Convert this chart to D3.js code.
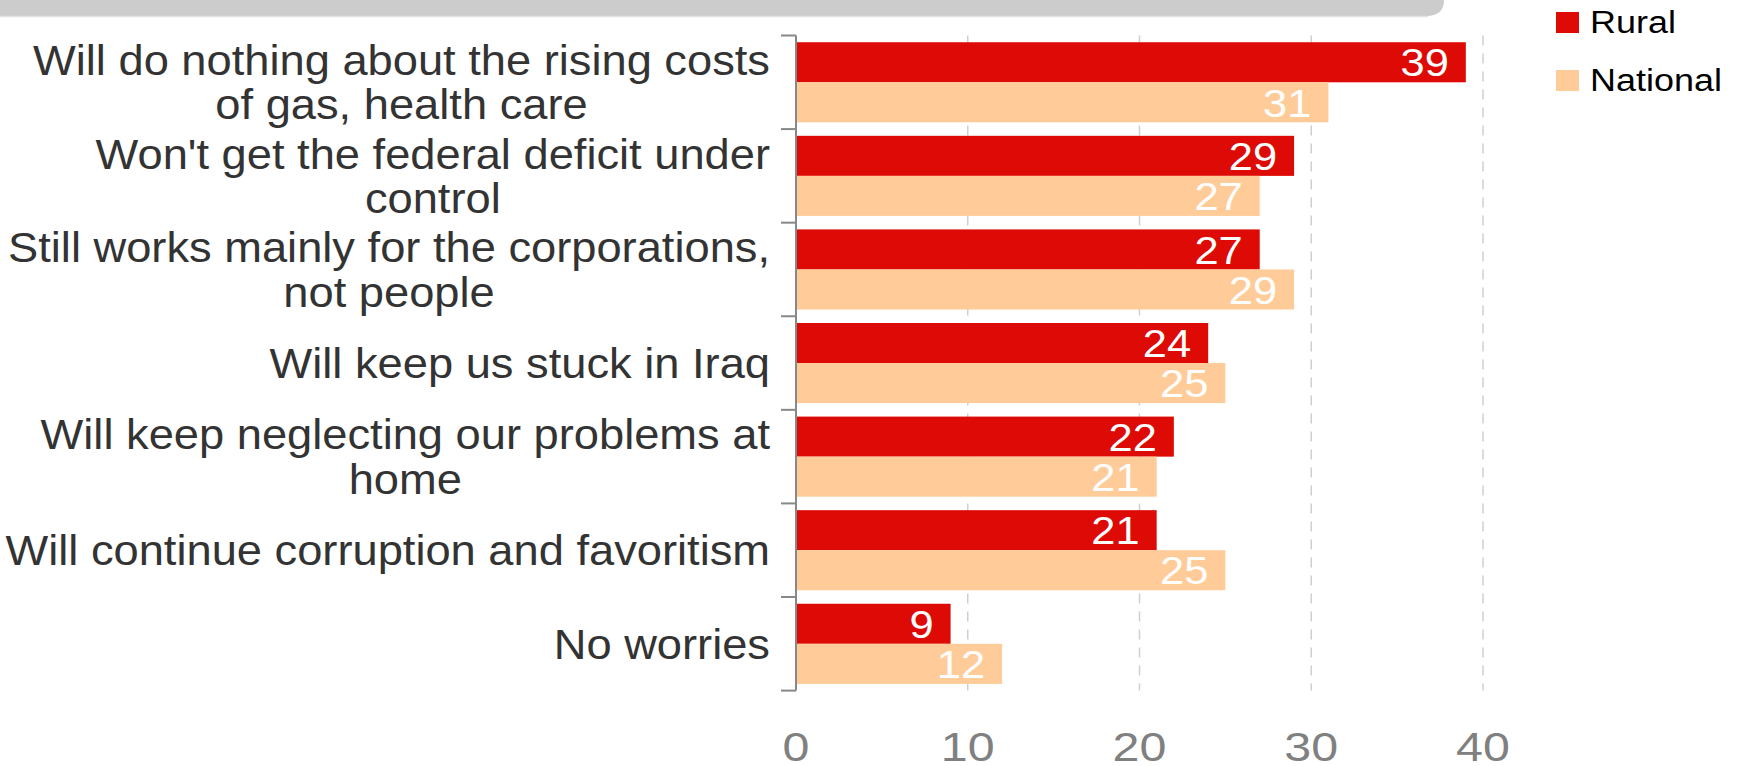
<!DOCTYPE html>
<html>
<head>
<meta charset="utf-8">
<script src="https://cdn.jsdelivr.net/npm/d3@7"></script>
<style>
  html, body { margin: 0; padding: 0; background: #fff; }
  svg { display: block; font-family: "Liberation Sans", Arial, sans-serif; }
</style>
</head>
<body>
<svg id="chart" width="1741" height="766"></svg>
<script>
// ---- data ----
const categories = [
  ["Will do nothing about the rising costs", "of gas, health care"],
  ["Won't get the federal deficit under", "control"],
  ["Still works mainly for the corporations,", "not people"],
  ["Will keep us stuck in Iraq"],
  ["Will keep neglecting our problems at", "home"],
  ["Will continue corruption and favoritism"],
  ["No worries"]
];
const rural    = [39, 29, 27, 24, 22, 21, 9];
const national = [31, 27, 29, 25, 21, 25, 12];
const seriesNames = ["Rural", "National"];
const xTicks = [0, 10, 20, 30, 40];

// ---- layout ----
const colors = ["#dd0a05", "#ffcc99"];
const svg = d3.select("#chart");
const x = d3.scaleLinear().domain([0, 40]).range([796, 1483]);
const idx = d3.range(categories.length);
const y = d3.scaleBand().domain(idx).range([35.5, 690.6]).padding(0);
const bw = y.bandwidth();
const barH = bw * 0.428;
const barOff = (bw - 2 * barH) / 2;

// header banner
svg.append("path")
  .attr("d", "M0,-10 L1444,-10 L1444,0 Q1444,16 1426,16 L0,16 Z")
  .attr("fill", "#cccccc");
svg.append("line").attr("x1", 0).attr("x2", 1428).attr("y1", 16.5).attr("y2", 16.5)
  .attr("stroke", "#e2e2e2").attr("stroke-width", 1.5);

// gridlines
svg.append("g").selectAll("line").data(xTicks.filter(d => d > 0)).join("line")
  .attr("x1", d => x(d)).attr("x2", d => x(d))
  .attr("y1", y.range()[0]).attr("y2", y.range()[1])
  .attr("stroke", "#cfcfcf").attr("stroke-width", 1.5)
  .attr("stroke-dasharray", "10,8");

// bars
const series = [rural, national];
series.forEach((vals, si) => {
  const g = svg.append("g");
  g.selectAll("rect").data(vals).join("rect")
    .attr("x", x(0))
    .attr("y", (d, i) => y(i) + barOff + si * barH)
    .attr("width", d => x(d) - x(0))
    .attr("height", barH)
    .attr("fill", colors[si]);
  g.selectAll("text").data(vals).join("text")
    .attr("transform", (d, i) => `translate(${x(d) - 17},${y(i) + barOff + si * barH + barH / 2}) scale(1.1,1)`)
    .attr("text-anchor", "end")
    .attr("dy", "0.36em")
    .attr("fill", "#ffffff")
    .attr("font-size", 39.5)
    .text(d => d);
});

// y axis (category boundaries)
const axisG = svg.append("g");
axisG.append("line")
  .attr("x1", x(0)).attr("x2", x(0))
  .attr("y1", y.range()[0]).attr("y2", y.range()[1])
  .attr("stroke", "#888888").attr("stroke-width", 2);
const bounds = idx.map(i => y(i)).concat([y.range()[1]]);
axisG.selectAll(".tk").data(bounds).join("line")
  .attr("x1", x(0) - 15).attr("x2", x(0))
  .attr("y1", d => d).attr("y2", d => d)
  .attr("stroke", "#888888").attr("stroke-width", 2);

// category labels
const lineH = 44.4;
categories.forEach((lines, i) => {
  const cy = y(i) + bw / 2;
  const g = svg.append("g")
    .attr("transform", `translate(770,${cy}) scale(1.065,1)`);
  const t = g.append("text")
    .attr("text-anchor", "middle")
    .attr("font-size", 42.5)
    .attr("fill", "#333333");
  const n = lines.length;
  lines.forEach((ln, k) => {
    t.append("tspan")
      .attr("x", 0)
      .attr("y", (k - (n - 1) / 2) * lineH)
      .attr("dy", "0.35em")
      .text(ln);
  });
  const w = t.node().getBBox().width;
  t.selectAll("tspan").attr("x", -w / 2);
});

// x tick labels
svg.append("g").selectAll("text").data(xTicks).join("text")
  .attr("transform", d => `translate(${x(d)},761) scale(1.18,1)`)
  .attr("text-anchor", "middle")
  .attr("font-size", 41)
  .attr("fill", "#808080")
  .text(d => d);

// legend
const leg = svg.append("g");
seriesNames.forEach((name, i) => {
  const ly = 12 + i * 58;
  leg.append("rect").attr("x", 1556).attr("y", ly).attr("width", 23).attr("height", 21)
    .attr("fill", colors[i]);
  leg.append("text")
    .attr("transform", `translate(1590,${ly + 21}) scale(1.16,1)`)
    .attr("font-size", 31)
    .attr("fill", "#000000")
    .text(name);
});
</script>
</body>
</html>
